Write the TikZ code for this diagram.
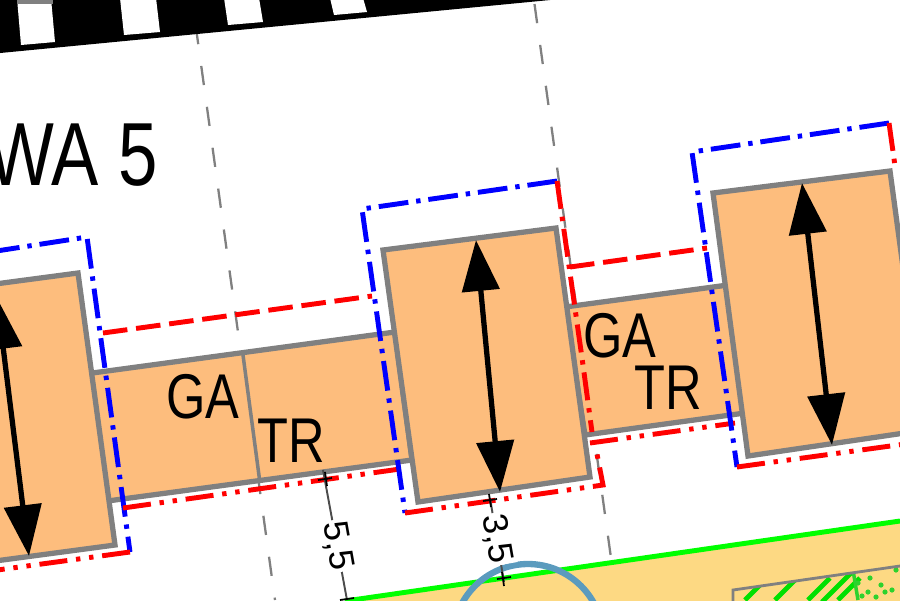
\documentclass[tikz,border=0pt]{standalone}
\usepackage{fontspec}
\setmainfont{Liberation Sans}
\usetikzlibrary{arrows.meta}
\definecolor{plotorange}{HTML}{FDBD7D}
\definecolor{plotsand}{HTML}{FDD983}
\definecolor{wallgray}{HTML}{808080}
\definecolor{pondblue}{HTML}{5B9BBE}
\definecolor{hatchgreen}{HTML}{00E000}
\tikzset{
  plot/.style={fill=plotorange,draw=wallgray,line width=3pt,line join=miter},
  axisline/.style={draw=wallgray,line width=1.3pt,dash pattern=on 11pt off 12.5pt},
  redbuild/.style={draw=red,line width=2.8pt,dash pattern=on 14pt off 5pt},
  redfront/.style={draw=red,line width=2.8pt,dash pattern=on 16pt off 5pt on 2.5pt off 5pt on 2.5pt off 5pt},
  redside/.style={draw=red,line width=2.8pt,dash pattern=on 16pt off 4.5pt on 2.5pt off 4.5pt},
  bluebuild/.style={draw=blue,line width=2.8pt,dash pattern=on 17pt off 4.5pt on 2.5pt off 4.5pt},
  ridge/.style={{Triangle[length=29pt,width=21pt]}-{Triangle[length=29pt,width=21pt]},line width=3pt},
  dimline/.style={draw=black!70,line width=1.1pt},
  dimtick/.style={draw=black,line width=1pt},
  dimtext/.style={font=\fontsize{20}{20}\selectfont,fill=white,inner sep=1pt},
  funktext/.style={font=\fontsize{36}{36}\selectfont,inner sep=0pt,xscale=.8},
}
\begin{document}
\begin{tikzpicture}[x=0.02cm,y=-0.02cm]
\useasboundingbox (0,0) rectangle (900,600);
\begin{scope}
\clip (0,0) rectangle (900,600);
% osie
\draw[axisline] (195.6,25) -- (275,600);
\draw[axisline] (534.5,4) -- (611,558);
% ramka u gory
\fill[black] (-5,53.5) -- (550,0) -- (550,-10) -- (-5,-10) -- cycle;
\foreach \xa/\ya/\xb/\yb in {21/45/55/42,124/35/160/32,228/25/263/22,334/15/367/12}
  \fill[white] (\xa,\ya) -- (\xb,\yb) -- ({\xb-4},-2) -- ({\xa-4},-2) -- cycle;
\fill[gray] (17,-1) rectangle (53,4);
% teren
\fill[plotsand] (345,601) -- (900,521) -- (900,610) -- (345,610) -- cycle;
\draw[green,line width=2.8pt] (345,601) -- (900,521);
\begin{scope}
\clip (733,590) -- (900,566) -- (900,610) -- (733,610) -- cycle;
\foreach \a in {745,775,808,838}
  \draw[hatchgreen,line width=2.8pt] (\a,600) -- ({\a+22},578);
\draw[hatchgreen,line width=2.8pt] (822,602) -- (860,564);
\foreach \a/\b in {858/583,868/592,870/578,876/597,885/592,892/590,862/596,881/585,896/570}
  \fill[green!65!gray] (\a,\b) circle (2.6);
\draw[green!65!gray,line width=2pt] (853,570) -- (858,600);
\end{scope}
\draw[wallgray,line width=1.6pt] (733,603) -- (733,590) -- (900,566);
\draw[pondblue,line width=3.6pt] (528,639) circle (75);
% budynki
\fill[plot] (85,374) -- (395,332) -- (412,460) -- (100,502) -- cycle;
\draw[wallgray,line width=2pt] (243,355) -- (260,483);
\fill[plot] (565,307) -- (728,285) -- (745,413) -- (585,435) -- cycle;
\fill[plot] (-20,286) -- (78,273) -- (115,545) -- (-20,563) -- cycle;
\fill[plot] (383,250) -- (556,228) -- (590,477) -- (418,502) -- cycle;
\fill[plot] (713,193) -- (890,171) -- (925,430) -- (748,456) -- cycle;
% linie zabudowy
\draw[redbuild] (103,333) -- (372,296);
\draw[redbuild] (570,267) -- (707,248);
\draw[bluebuild] (-10,252) -- (87,237) -- (130,552);
\draw[redfront] (123,508) -- (400,469);
\draw[redfront] (130,552) -- (-10,571);
\draw[bluebuild] (557,181) -- (362,209) -- (405,513);
\draw[redside] (557,181) -- (583,365) -- (592,432);
\draw[redfront] (405,513) -- (603,485) -- (597,454);
\draw[redfront] (590,443) -- (735,423);
\draw[bluebuild] (889,123) -- (692,152) -- (737,467);
\draw[redside] (889,123) -- (895,166);
\draw[redfront] (737,467) -- (905,444);
% kalenice
\draw[ridge] (-3,298) -- (29,556);
\draw[ridge] (476,240) -- (500,492);
\draw[ridge] (802,183) -- (832,445);
% wymiary
\draw[dimline] (323,470) -- (347,600);
\draw[dimline] (490,498) -- (504,582);
\draw[dimtick] (318,480) -- (332,478) (325,472) -- (327,486);
\draw[dimtick] (340,600) -- (354,598);
\draw[dimtick] (483,501) -- (497,499) (489,494) -- (491,507);
\draw[dimtick] (497,579) -- (511,577) (502,572) -- (504,586);
\node[dimtext,rotate=-80] (dima) at (337,546) {5,5};
\node[dimtext,rotate=-80] (dimb) at (497,539) {3,5};
% opisy
\node[funktext] (gaa) at (203,397) {GA};
\node[funktext] (tra) at (291,441) {TR};
\node[funktext] (gab) at (620,336) {GA};
\node[funktext] (trb) at (668,388) {TR};
\node[font=\fontsize{51}{51}\selectfont,inner sep=0pt,anchor=east,xscale=.79] (title) at (158,155) {WA 5};
\end{scope}
\end{tikzpicture}
\end{document}
